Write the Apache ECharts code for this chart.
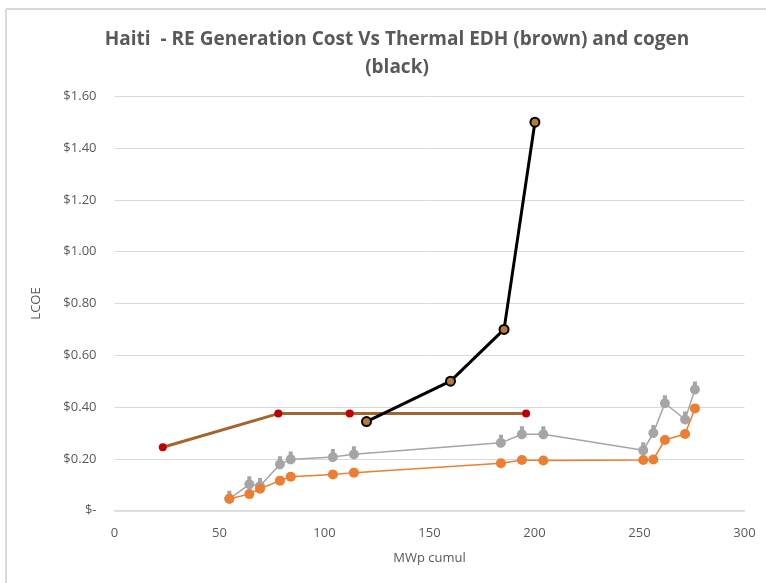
<!DOCTYPE html>
<html>
<head>
<meta charset="utf-8">
<script src="https://cdn.jsdelivr.net/npm/echarts@6/dist/echarts.min.js"></script>
<style>
html,body{margin:0;padding:0;background:#fff;}
#c{width:766px;height:583px;}
</style>
</head>
<body>
<div id="c"></div>
<script>
// ---- data ----
const reX = [54.7, 64.2, 69.3, 78.8, 83.9, 104, 114, 184, 194, 204.2, 251.8, 256.6, 262.1, 271.7, 276.4];
const reGray = [0.046, 0.102, 0.095, 0.179, 0.198, 0.207, 0.218, 0.262, 0.295, 0.295, 0.233, 0.300, 0.415, 0.352, 0.468];
const reOrange = [0.046, 0.064, 0.085, 0.116, 0.131, 0.140, 0.147, 0.183, 0.196, 0.194, 0.196, 0.198, 0.273, 0.296, 0.395];
const edhX = [23, 78, 112, 196];
const edhY = [0.245, 0.375, 0.375, 0.375];
const cogenX = [120, 160, 185.5, 200.2];
const cogenY = [0.344, 0.50, 0.70, 1.50];
const xTicks = [0, 50, 100, 150, 200, 250, 300];
const yTicks = [0, 0.2, 0.4, 0.6, 0.8, 1.0, 1.2, 1.4, 1.6];

const zip = (xs, ys) => xs.map((x, i) => [x, ys[i]]);
const txt = '#595959';
const font = '"Open Sans", "Noto Sans", sans-serif';
const grayMarker = 'path://M3,0 L7,0 L7,3.42 A5,5 0 1,1 3,3.42 Z';

const chart = echarts.init(document.getElementById('c'), null, {renderer: 'canvas'});
chart.setOption({
  animation: false,
  backgroundColor: '#fff',
  title: {
    text: 'Haiti  - RE Generation Cost Vs Thermal EDH (brown) and cogen\n(black)',
    left: 392, top: 21, textAlign: 'center',
    textStyle: {color: txt, fontFamily: font, fontSize: 19, fontWeight: 'bold', lineHeight: 28}
  },
  graphic: [
    {type: 'line', shape: {x1: 6, y1: 9, x2: 6, y2: 583}, style: {stroke: '#d9d9d9', lineWidth: 2}},
    {type: 'line', shape: {x1: 6, y1: 9, x2: 766, y2: 9}, style: {stroke: '#d9d9d9', lineWidth: 2}}
  ],
  grid: {left: 114.5, right: 21.5, top: 96.3, bottom: 72.3, containLabel: false},
  xAxis: {
    type: 'value', min: xTicks[0], max: xTicks[xTicks.length - 1], interval: 50,
    name: 'MWp cumul', nameLocation: 'middle', nameGap: 41,
    nameTextStyle: {color: txt, fontFamily: font, fontSize: 13},
    axisLine: {show: true, lineStyle: {color: '#d9d9d9', width: 1.5}},
    axisTick: {show: false},
    splitLine: {show: false},
    axisLabel: {color: txt, fontFamily: font, fontSize: 13, margin: 16}
  },
  yAxis: {
    type: 'value', min: yTicks[0], max: yTicks[yTicks.length - 1], interval: 0.2,
    name: 'LCOE', nameLocation: 'middle', nameGap: 72, nameRotate: 90,
    nameTextStyle: {color: txt, fontFamily: font, fontSize: 13},
    axisLine: {show: false}, axisTick: {show: false},
    splitLine: {lineStyle: {color: '#d9d9d9', width: 1}},
    axisLabel: {
      color: txt, fontFamily: font, fontSize: 13, margin: 18,
      formatter: v => v === 0 ? '$-' : '$' + v.toFixed(2)
    }
  },
  series: [
    {
      name: 'RE gray', type: 'line', data: zip(reX, reGray), z: 2,
      lineStyle: {color: '#a5a5a5', width: 1.5},
      symbol: grayMarker, symbolSize: [10, 13], symbolOffset: [0, -1.5], showAllSymbol: true,
      itemStyle: {color: '#a5a5a5', borderWidth: 0}
    },
    {
      name: 'RE orange', type: 'line', data: zip(reX, reOrange), z: 3,
      lineStyle: {color: '#ed7d31', width: 1.5},
      symbol: 'circle', symbolSize: 10, showAllSymbol: true,
      itemStyle: {color: '#ed7d31', borderWidth: 0}
    },
    {
      name: 'EDH', type: 'line', data: zip(edhX, edhY), z: 4,
      lineStyle: {color: '#a5642d', width: 3},
      symbol: 'circle', symbolSize: 8, showAllSymbol: true,
      itemStyle: {color: '#c00000', borderWidth: 0}
    },
    {
      name: 'cogen', type: 'line', data: zip(cogenX, cogenY), z: 5,
      lineStyle: {color: '#000000', width: 3},
      symbol: 'circle', symbolSize: 9, showAllSymbol: true,
      itemStyle: {color: '#b97a35', borderColor: '#000', borderWidth: 2}
    }
  ]
});
</script>
</body>
</html>
